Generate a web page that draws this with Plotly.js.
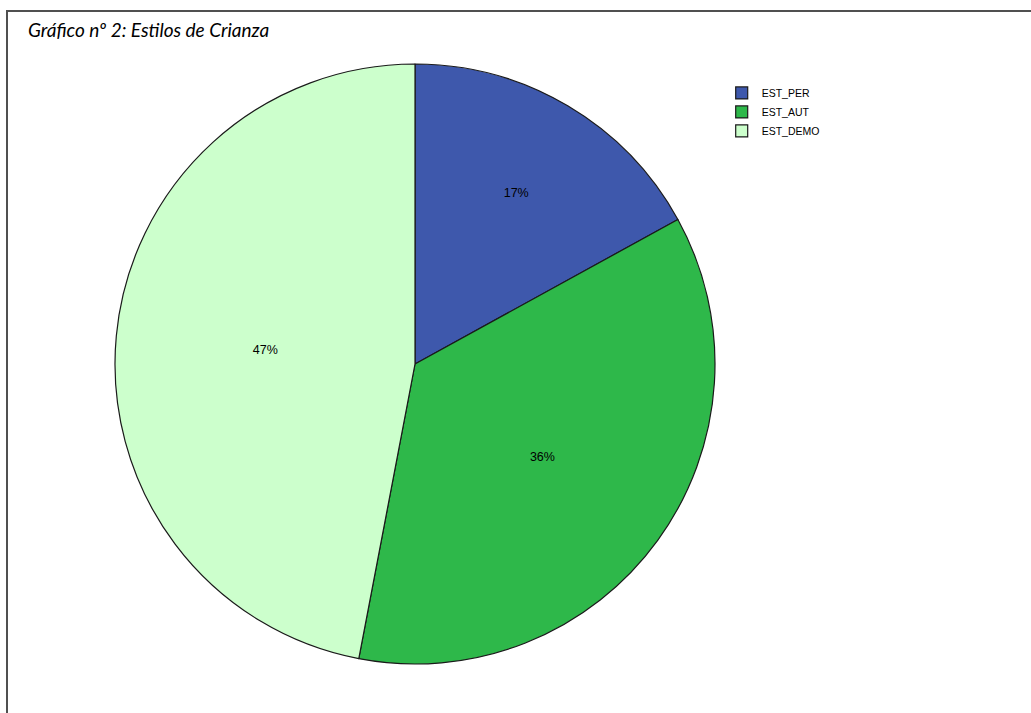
<!DOCTYPE html>
<html>
<head>
<meta charset="utf-8">
<script src="https://cdn.plot.ly/plotly-3.0.1.min.js"></script>
<style>
  html, body { margin: 0; padding: 0; background: #ffffff; }
  #chart { width: 1031px; height: 713px; }
  #frame { position: absolute; left: 6px; top: 10px; width: 1040px; height: 720px;
           border-left: 2px solid #505050; border-top: 2px solid #505050; pointer-events: none; }
</style>
</head>
<body>
<div id="chart"></div>
<div id="frame"></div>
<script>
const categories = ["EST_PER", "EST_AUT", "EST_DEMO"];
const percentages = [17, 36, 47];
const sliceColors = ["#3e58ac", "#2eb84a", "#ccffcc"];
const chartTitle = "Gráfico nº 2: Estilos de Crianza";

const W = 1031, H = 713;
const cx = 415, cy = 364, r = 300;

const trace = {
  type: "pie",
  labels: categories,
  values: percentages,
  sort: false,
  direction: "clockwise",
  rotation: 0,
  marker: { colors: sliceColors, line: { color: "#1a1a1a", width: 1.2 } },
  textinfo: "percent",
  textposition: "inside",
  insidetextorientation: "horizontal",
  textfont: { family: "Liberation Sans, Arial, sans-serif", size: 12.5, color: "#000000" },
  texttemplate: "%{percent:.0%}",
  hoverinfo: "label+percent",
  domain: { x: [(cx - r) / W, (cx + r) / W], y: [1 - (cy + r) / H, 1 - (cy - r) / H] }
};

const layout = {
  width: W, height: H,
  margin: { l: 0, r: 0, t: 0, b: 0 },
  paper_bgcolor: "#ffffff",
  title: {
    text: chartTitle,
    x: 28 / W, xanchor: "left", xref: "paper",
    y: 1 - 30 / H, yanchor: "middle", yref: "paper",
    font: { family: "Lato, 'Open Sans', sans-serif", size: 19, color: "#000000", style: "italic" }
  },
  showlegend: true,
  legend: {
    x: 0.700, xanchor: "left", y: 0.890, yanchor: "top",
    font: { family: "Liberation Sans, Arial, sans-serif", size: 10.5, color: "#000000" },
    bgcolor: "rgba(0,0,0,0)", itemwidth: 30, tracegroupgap: 0
  }
};

Plotly.newPlot("chart", [trace], layout, { displayModeBar: false, staticPlot: true });
</script>
</body>
</html>
